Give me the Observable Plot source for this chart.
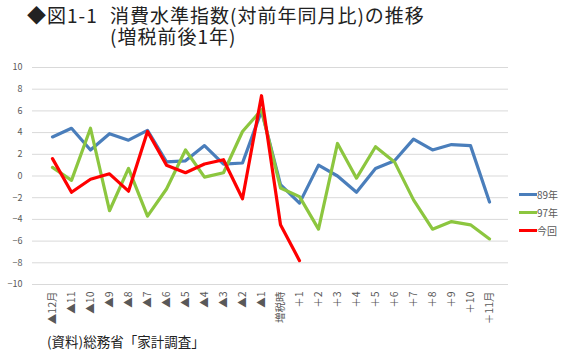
<!DOCTYPE html>
<html><head><meta charset="utf-8">
<script src="https://cdn.jsdelivr.net/npm/d3@7"></script>
<script src="https://cdn.jsdelivr.net/npm/@observablehq/plot@0.6"></script>
<style>
body{margin:0;background:#fff;font-family:"Noto Sans CJK JP","Noto Sans",sans-serif;}
#wrap{position:relative;width:570px;height:354px;overflow:hidden;}
.t{position:absolute;font-size:19px;line-height:21px;color:#222;white-space:nowrap;letter-spacing:1px;}
#t1a{left:27px;top:4px;}
#t1b{left:110px;top:4px;}
#caption{position:absolute;left:47px;top:331px;font-size:13.5px;color:#222;white-space:nowrap;}
#legend{position:absolute;left:519px;top:186px;font-size:10px;color:#595959;}
#legend div{height:17.8px;display:flex;align-items:center;}
#legend span.sw{display:inline-block;width:18px;height:3px;}
#chart{position:absolute;left:0;top:0;}
</style></head>
<body><div id="wrap">
<div id="chart"></div>
<div class="t" id="t1a">◆図1-1</div>
<div class="t" id="t1b">消費水準指数(対前年同月比)の推移<br>(増税前後1年)</div>
<div id="legend"></div>
<div id="caption">(資料)総務省「家計調査」</div>
</div>
<script>
const categories = ["▲12月","▲11","▲10","▲9","▲8","▲7","▲6","▲5","▲4","▲3","▲2","▲1","増税時","＋1","＋2","＋3","＋4","＋5","＋6","＋7","＋8","＋9","＋10","＋11月"];
const seriesNames = ["89年","97年","今回"];
const seriesColors = ["#4a7ebb","#8cc63f","#ff0000"];
const y89 = [3.6,4.4,2.4,3.9,3.3,4.2,1.3,1.4,2.8,1.1,1.2,6.0,-0.8,-2.5,1.0,0.0,-1.5,0.7,1.4,3.4,2.4,2.9,2.8,-2.4];
const y97 = [0.8,-0.4,4.4,-3.2,0.7,-3.7,-1.2,2.4,-0.1,0.3,4.1,6.1,-1.1,-1.9,-4.9,3.0,-0.2,2.7,1.3,-2.2,-4.9,-4.2,-4.5,-5.8];
const yNow = [1.6,-1.5,-0.3,0.2,-1.4,4.1,1.0,0.3,1.1,1.5,-2.1,7.4,-4.5,-7.8];
const yTicks = [-10,-8,-6,-4,-2,0,2,4,6,8,10];

const rows = [];
[y89,y97,yNow].forEach((arr,s)=>arr.forEach((v,i)=>rows.push({cat:categories[i],v,series:seriesNames[s]})));

const chart = Plot.plot({
  width:570, height:354,
  marginLeft:32, marginRight:62, marginTop:67, marginBottom:70,
  style:{fontFamily:'"Noto Sans CJK JP","Noto Sans",sans-serif',background:"transparent"},
  x:{type:"point",domain:categories,padding:0.5,align:0.5},
  y:{domain:[-10,10]},
  color:{domain:seriesNames,range:seriesColors},
  marks:[
    Plot.ruleY(yTicks,{stroke:"#d9d9d9",strokeWidth:1}),
    Plot.axisY({ticks:yTicks,tickSize:0,tickPadding:10,fontSize:9,fill:"#595959",label:null}),
    Plot.axisX({tickSize:0,tickPadding:7,tickRotate:-90,fontSize:10.5,fill:"#595959",label:null}),
    ...seriesNames.map(s=>Plot.line(rows.filter(d=>d.series===s),{x:"cat",y:"v",stroke:"series",strokeWidth:3.2,strokeLinejoin:"round"}))
  ]
});
document.getElementById("chart").appendChild(chart);

const lg = document.getElementById("legend");
seriesNames.forEach((s,i)=>{
  const d=document.createElement("div");
  d.innerHTML=`<span class="sw" style="background:${seriesColors[i]}"></span>${s}`;
  lg.appendChild(d);
});
</script>
</body></html>
